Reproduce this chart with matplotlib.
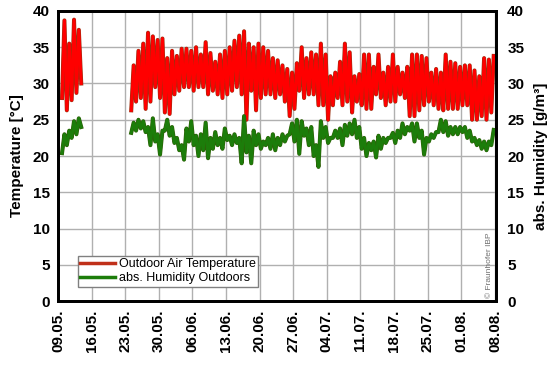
import numpy as np
import pandas as pd
import matplotlib
matplotlib.use("Agg")
import matplotlib.pyplot as plt
import matplotlib.patheffects as pe
from matplotlib.lines import Line2D

plt.rcParams['font.family'] = ['Liberation Sans', 'DejaVu Sans']

# ---- data (daily minimum / maximum) ----
# first measurement period, starting 09.05. evening (12-hourly values)
seg1_start = "2014-05-09 20:00"
seg1_temp = [28, 38.7, 26.3, 35.5, 27.7, 38.8, 28.7, 37.4, 30]
seg1_hum = [20.4, 23.0, 21.5, 23.5, 22.5, 24.8, 23.0, 25.2, 24.0]

# main period, one (low, high) pair per day starting 24.05.
seg2_start = "2014-05-24 06:00"
temp_lo = [26.3, 27.5, 28, 26.5, 27.5, 29.5, 28, 26, 25.8, 28.5, 29, 29.5, 29.5, 29, 29.5,
           29.5, 28.5, 29, 28.5, 28, 28.5, 29, 29.5, 28.5, 25, 29, 26.3, 28, 28.5,
           28.5, 28, 28.5, 27.5, 25.5, 26.5, 29, 28, 28.5, 28.5, 27, 27, 25, 27, 28,
           27, 27.5, 26, 27.5, 27, 26.5, 26.5, 28.5, 28, 27, 27.5, 27.5, 28.5, 28, 25.5,
           25.5, 26.3, 27, 27.5, 27, 26.5, 26.3, 26.5, 26.5, 26.5, 27, 27, 25, 25, 25.5, 25, 26]
temp_hi = [32.5, 34.5, 35.5, 37, 36.5, 36, 36.2, 33.5, 34.5, 33.8, 34.8, 34.8, 34.5, 35, 34,
           35.7, 34.2, 33, 34, 34.5, 35, 35.9, 36.6, 37.2, 35.5, 35, 35.5, 35, 34.5,
           33.5, 33.2, 32.5, 32, 31.5, 32.8, 35, 33.5, 34.3, 34, 35.5, 34, 31, 31.5, 33,
           35.5, 34.3, 31, 31.3, 34, 34, 32.3, 34, 31.5, 32.3, 34, 32.3, 31.5, 32.3, 34,
           34, 33.8, 33.5, 31.5, 32, 31.5, 34, 33, 32.8, 32.3, 32.5, 32.5, 31.8, 31, 33.5, 33.3, 33.8]
hum_lo = [23.2, 23.5, 23.8, 23.3, 21.5, 22, 20.2, 23.5, 22.8, 21.8, 20.8, 19.5, 22, 21.5, 20,
          20.8, 19.7, 21, 21.5, 21, 22.2, 21.5, 21.8, 19, 20.5, 19, 21.5, 21, 21.5,
          21, 20.8, 21.5, 22, 23, 22, 20.3, 22.8, 21.5, 20, 18.5, 22.5, 21.8, 22.5, 22.5,
          21.5, 22.8, 23, 22.5, 21, 20, 20.8, 19.8, 21, 21.8, 22.5, 21.8, 22.5, 23, 23.5,
          22, 22.5, 20.2, 22, 22.5, 23.3, 23.3, 22.8, 23, 23, 23.3, 22.5, 22, 21.5, 21, 20.8, 21.5]
hum_hi = [24.6, 25, 24.8, 24, 25.2, 23, 23.5, 25, 24, 22.5, 21.5, 23.8, 24.8, 22.8, 23,
          24.6, 22.5, 23.3, 22.5, 23.8, 22.8, 23, 22.5, 25.5, 22.8, 23.5, 23, 22, 22.5,
          23, 22.5, 23, 22.8, 24.5, 25, 24.8, 23.8, 24, 21.5, 24.8, 24, 22.5, 23.5, 23.8,
          24.3, 24.5, 25, 24, 22.5, 21.8, 22, 22.8, 22.5, 22.5, 23.2, 23.5, 24.5, 24, 24.5,
          24.5, 23.5, 22.5, 23, 23.3, 25, 24.8, 24, 24, 24, 24, 23.5, 22.5, 22.2, 22, 22, 23.6]

tick_labels = ["09.05.", "16.05.", "23.05.", "30.05.", "06.06.", "13.06.", "20.06.",
               "27.06.", "04.07.", "11.07.", "18.07.", "25.07.", "01.08.", "08.08."]

# ---- build time series ----
t1 = pd.date_range(seg1_start, periods=len(seg1_temp), freq="12h")
t2 = pd.date_range(seg2_start, periods=2 * len(temp_lo), freq="12h")
temp2 = np.column_stack([temp_lo, temp_hi]).ravel()
hum2 = np.column_stack([hum_lo, hum_hi]).ravel()

fig = plt.figure(figsize=(5.5, 3.65), dpi=100)
ax = fig.add_axes([0.1055, 0.175, 0.7965, 0.795])

red = "#FF0000"
green = "#1C7D0A"
pe_r = [pe.Stroke(linewidth=2.9, foreground="#9A3010"), pe.Normal()]
pe_g = [pe.Stroke(linewidth=2.9, foreground="#2F5F08"), pe.Normal()]

for t, y in ((t1, seg1_temp), (t2, temp2)):
    ax.plot(t, y, color=red, lw=2.1, path_effects=pe_r, solid_joinstyle="round")
for t, y in ((t1, seg1_hum), (t2, hum2)):
    ax.plot(t, y, color=green, lw=2.1, path_effects=pe_g, solid_joinstyle="round")

ticks = pd.date_range("2014-05-09", periods=len(tick_labels), freq="7D")
ax.set_xticks(ticks)
ax.set_xticklabels(tick_labels, rotation=90, fontsize=11, fontweight="bold")
ax.set_xlim(ticks[0], ticks[-1] + pd.Timedelta(hours=6))
ax.set_ylim(0, 40)
ax.set_yticks(range(0, 41, 5))
ax.tick_params(axis="both", length=0, pad=6, labelsize=11)
for lab in ax.get_yticklabels():
    lab.set_fontweight("bold")
ax.grid(True, color="#B0B0B0", lw=1)
ax.set_axisbelow(True)
for s in ax.spines.values():
    s.set_linewidth(2)
ax.set_ylabel("Temperature [°C]", fontsize=11, fontweight="bold", labelpad=6)

ax2 = ax.twinx()
ax2.set_ylim(0, 40)
ax2.set_yticks(range(0, 41, 5))
ax2.tick_params(axis="y", length=0, pad=8, labelsize=11)
for lab in ax2.get_yticklabels():
    lab.set_fontweight("bold")
for s in ax2.spines.values():
    s.set_linewidth(2)
ax2.set_ylabel("abs. Humidity [g/m³]", fontsize=11, fontweight="bold", labelpad=7)

handles = [Line2D([], [], color="#C0301A", lw=2.5), Line2D([], [], color=green, lw=2.5)]
leg = ax.legend(handles, ["Outdoor Air Temperature", "abs. Humidity Outdoors"],
                loc="lower left", bbox_to_anchor=(0.045, 0.05), fontsize=9,
                frameon=True, fancybox=False, framealpha=1, edgecolor="#808080",
                handlelength=2.8, handletextpad=0.3, borderpad=0.2, labelspacing=0.15,
                borderaxespad=0)
leg.get_frame().set_linewidth(1)

ax.text(0.985, 0.01, "© Fraunhofer IBP", transform=ax.transAxes, rotation=90,
        fontsize=6, color="#707070", ha="center", va="bottom")

fig.savefig("out.png", dpi=100)
